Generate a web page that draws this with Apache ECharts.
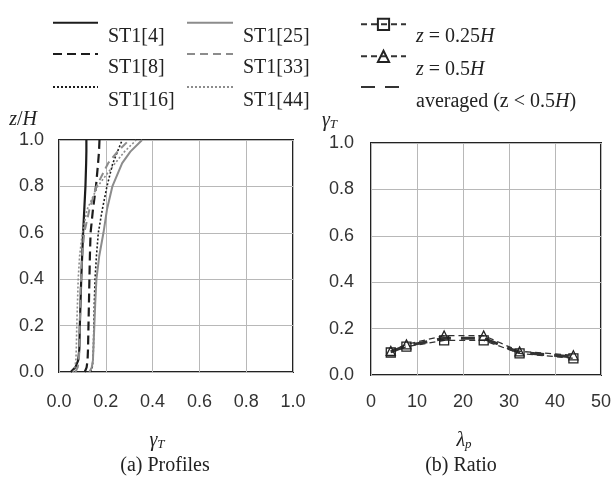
<!DOCTYPE html>
<html><head><meta charset="utf-8">
<script src="https://cdn.jsdelivr.net/npm/echarts@6/dist/echarts.min.js"></script>
<style>html,body{margin:0;padding:0;background:#fff}#c{width:614px;height:481px}</style>
</head><body><div id="c"></div>
<script>
// ---- data ----
const zLevels = [0, 0.02, 0.05, 0.1, 0.2, 0.3, 0.4, 0.5, 0.6, 0.7, 0.8, 0.9, 0.95, 1.0];
const st1_4  = [0.05, 0.07, 0.082, 0.087, 0.089, 0.092, 0.095, 0.099, 0.103, 0.108, 0.113, 0.116, 0.117, 0.117];
const st1_8  = [0.11, 0.118, 0.122, 0.124, 0.126, 0.128, 0.13, 0.132, 0.135, 0.145, 0.158, 0.167, 0.171, 0.173];
const st1_16 = [0.135, 0.142, 0.145, 0.147, 0.149, 0.151, 0.154, 0.16, 0.168, 0.185, 0.205, 0.23, 0.25, 0.27];
const st1_25 = [0.13, 0.14, 0.145, 0.147, 0.151, 0.155, 0.16, 0.172, 0.19, 0.205, 0.228, 0.27, 0.305, 0.355];
const st1_33 = [0.07, 0.08, 0.085, 0.087, 0.089, 0.091, 0.094, 0.099, 0.108, 0.13, 0.16, 0.21, 0.25, 0.3];
const st1_44 = [0.06, 0.068, 0.072, 0.074, 0.076, 0.079, 0.082, 0.088, 0.1, 0.12, 0.165, 0.24, 0.28, 0.33];

const lambdaP = [4.3, 7.7, 15.9, 24.5, 32.3, 44];
const ratioZ025 = [0.097, 0.122, 0.149, 0.149, 0.093, 0.072];
const ratioZ05  = [0.104, 0.132, 0.17, 0.17, 0.102, 0.085];
const ratioAvg  = [0.1, 0.126, 0.158, 0.158, 0.097, 0.078];

const profileTicks = ['0.0','0.2','0.4','0.6','0.8','1.0'];

// ---- helpers ----
const pairs = (xs, ys) => xs.map((x, i) => [x, ys[i]]);
const BLACK = '#1c1c1c', GREY = '#8c8c8c', GRID = '#b8b8b8';
const serif = 'Liberation Serif';
const sans = 'Liberation Sans';
const CLEAR = 'rgba(0,0,0,0)';

function profileSeries(name, vals, color, type, width) {
  return { name, type: 'line', xAxisIndex: 0, yAxisIndex: 0, symbol: 'none',
    data: pairs(vals, zLevels), lineStyle: { color, type, width }, itemStyle: { color } };
}
function ratioSeries(name, vals, symbol, width, dash) {
  return { name, type: 'line', xAxisIndex: 1, yAxisIndex: 1, symbol, symbolSize: symbol === 'none' ? 0 : 9,
    data: pairs(lambdaP, vals),
    lineStyle: { color: '#333', type: dash, width },
    itemStyle: { color: 'rgba(255,255,255,0)', borderColor: '#222', borderWidth: 1.3 } };
}

function leg(name, left, top, w, noSymbol, padTop) {
  const l = { data: [name], left, top, orient: 'horizontal', padding: 0,
    itemWidth: w, itemHeight: 14, selectedMode: false,
    textStyle: {
      fontFamily: serif, fontSize: 20, color: '#222', padding: [padTop, 0, 0, 5],
      rich: { i: { fontFamily: serif, fontStyle: 'italic', fontSize: 20, color: '#222' } }
    },
    formatter: n => n.replace(/^z = ([\d.]+)H$/, '{i|z} = $1{i|H}').replace('0.5H)', '0.5{i|H})') };
  if (noSymbol) l.itemStyle = { color: CLEAR, borderColor: CLEAR, borderWidth: 0 };
  return l;
}

const axisLabel = { fontFamily: sans, fontSize: 18, color: '#333' };

const option = {
  animation: false,
  backgroundColor: '#fff',
  title: [
    { text: '(a) Profiles', left: 160, top: 451, textAlign: 'center',
      textStyle: { fontFamily: serif, fontWeight: 'normal', fontSize: 20, color: '#222' } },
    { text: '(b) Ratio', left: 456, top: 451, textAlign: 'center',
      textStyle: { fontFamily: serif, fontWeight: 'normal', fontSize: 20, color: '#222' } }
  ],
  legend: [
    leg('ST1[4]', 52, 17.1, 45, true, 28), leg('ST1[8]', 52, 48.4, 45, true, 28), leg('ST1[16]', 52, 81.4, 45, true, 28),
    leg('ST1[25]', 186, 17.1, 46, true, 28), leg('ST1[33]', 186, 48.4, 46, true, 28), leg('ST1[44]', 186, 81.4, 46, true, 28),
    leg('z = 0.25H', 360, 17.7, 45, false, 24), leg('z = 0.5H', 360, 49.7, 45, false, 26),
    leg('averaged (z < 0.5H)', 360, 81.4, 45, true, 30)
  ],
  grid: [
    { left: 59, top: 140, width: 234, height: 232, show: true, borderColor: '#222', borderWidth: 2, backgroundColor: 'transparent' },
    { left: 371, top: 143, width: 234, height: 232, show: true, borderColor: '#222', borderWidth: 2, backgroundColor: 'transparent' }
  ],
  xAxis: [
    { type: 'value', gridIndex: 0, min: 0, max: 1, interval: 0.2,
      axisLine: { show: false }, axisTick: { show: false },
      splitLine: { show: true, lineStyle: { color: GRID, width: 1 } },
      axisLabel: { ...axisLabel, margin: 21, formatter: (v) => profileTicks[Math.round(v / 0.2)] },
      name: '{g|γ}{s|T}', nameLocation: 'middle', nameGap: 58,
      nameTextStyle: { padding: [0, 38, 0, 0], rich: {
        g: { fontFamily: serif, fontStyle: 'italic', fontSize: 20, color: '#222' },
        s: { fontFamily: serif, fontStyle: 'italic', fontSize: 13, color: '#222', padding: [8, 0, 0, 0] } } } },
    { type: 'value', gridIndex: 1, min: 0, max: 50, interval: 10,
      axisLine: { show: false }, axisTick: { show: false },
      splitLine: { show: true, lineStyle: { color: GRID, width: 1 } },
      axisLabel: { ...axisLabel, margin: 18 },
      name: '{g|λ}{s|p}', nameLocation: 'middle', nameGap: 55,
      nameTextStyle: { padding: [0, 44, 0, 0], rich: {
        g: { fontFamily: serif, fontStyle: 'italic', fontSize: 20, color: '#222' },
        s: { fontFamily: serif, fontStyle: 'italic', fontSize: 13, color: '#222', padding: [8, 0, 0, 0] } } } }
  ],
  yAxis: [
    { type: 'value', gridIndex: 0, min: 0, max: 1, interval: 0.2,
      axisLine: { show: false }, axisTick: { show: false },
      splitLine: { show: true, lineStyle: { color: GRID, width: 1 } },
      axisLabel: { ...axisLabel, margin: 15, formatter: v => v.toFixed(1) },
      name: '{i|z}/{i|H}', nameLocation: 'end', nameGap: 10,
      nameTextStyle: { align: 'right', padding: [0, 22, 0, 0], fontFamily: serif, fontSize: 20, color: '#222',
        rich: { i: { fontFamily: serif, fontStyle: 'italic', fontSize: 20, color: '#222' } } } },
    { type: 'value', gridIndex: 1, min: 0, max: 1, interval: 0.2,
      axisLine: { show: false }, axisTick: { show: false },
      splitLine: { show: true, lineStyle: { color: GRID, width: 1 } },
      axisLabel: { ...axisLabel, margin: 17, formatter: v => v.toFixed(1) },
      name: '{g|γ}{s|T}', nameLocation: 'end', nameGap: 12,
      nameTextStyle: { align: 'right', padding: [0, 34, 0, 0], rich: {
        g: { fontFamily: serif, fontStyle: 'italic', fontSize: 20, color: '#222' },
        s: { fontFamily: serif, fontStyle: 'italic', fontSize: 13, color: '#222', padding: [8, 0, 0, 0] } } } }
  ],
  series: [
    profileSeries('ST1[4]', st1_4, BLACK, 'solid', 2.2),
    profileSeries('ST1[8]', st1_8, BLACK, [9, 5], 2.2),
    profileSeries('ST1[16]', st1_16, BLACK, [2, 2], 1.6),
    profileSeries('ST1[25]', st1_25, GREY, 'solid', 2),
    profileSeries('ST1[33]', st1_33, GREY, [8, 5], 2),
    profileSeries('ST1[44]', st1_44, GREY, [2, 2], 1.6),
    ratioSeries('z = 0.25H', ratioZ025, 'rect', 1.3, [6, 4]),
    ratioSeries('z = 0.5H', ratioZ05, 'triangle', 1.3, [6, 4]),
    ratioSeries('averaged (z < 0.5H)', ratioAvg, 'none', 3, [14, 10])
  ]
};
const chart = echarts.init(document.getElementById('c'), null, { renderer: 'canvas' });
chart.setOption(option);
</script>
</body></html>
